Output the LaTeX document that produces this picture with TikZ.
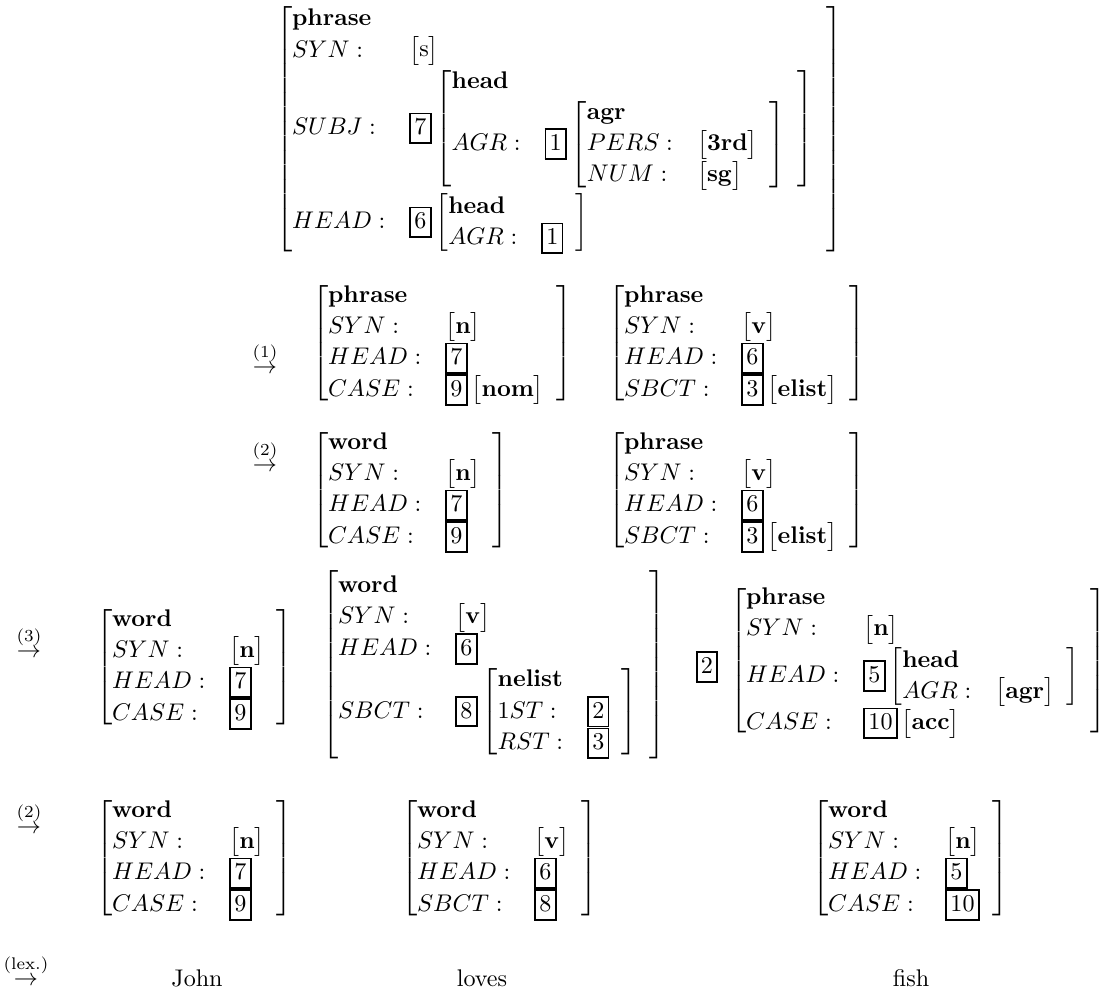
\documentclass[tikz,border=0pt]{standalone}
\usepackage{tikz}
\setlength{\fboxrule}{0.7pt}
\newcommand{\tagbox}[1]{{\setlength{\fboxsep}{1.4pt}\fbox{\rule[-1.7pt]{0pt}{8.8pt}#1}}}
\newcommand{\avm}[1]{{\renewcommand{\arraystretch}{1.08}\left[\begin{array}{@{}ll}#1\end{array}\right]}}
\newcommand{\valrm}[1]{{\renewcommand{\arraystretch}{1}\left[\begin{array}{@{}l@{}}#1\end{array}\right]}}
\newcommand{\val}[1]{\valrm{\mathbf{#1}}}
\newcommand{\step}[1]{$\stackrel{#1}{\rightarrow}$}
\tikzset{
  avm/.style={inner sep=0pt, outer sep=0pt, anchor=west},
  rulelbl/.style={inner sep=0pt}
}

\begin{document}
\begin{tikzpicture}[x=0.415pt, y={(0,-0.415pt)}]
  \useasboundingbox (0,0) rectangle (1107,994);

  % Sentence
  \node[avm] (sent) at (276,129) {$\avm{
    \textbf{phrase} & \\
    SYN: & \valrm{\mathrm{s}} \\
    SUBJ: & \tagbox{7}\,\avm{\textbf{head} & \\
      AGR: & \tagbox{1}\,\avm{\textbf{agr} & \\ PERS: & \val{3rd} \\ NUM: & \val{sg}}} \\
    HEAD: & \tagbox{6}\,\avm{\textbf{head} & \\ AGR: & \tagbox{1}}}$};

  % Step (1)
  \node[rulelbl] (r1) at (265,358) {\step{(1)}};
  \node[avm] (np1) at (312,343) {$\avm{
    \textbf{phrase} & \\ SYN: & \val{n} \\ HEAD: & \tagbox{7} \\ CASE: & \tagbox{9}\,\val{nom}}$};
  \node[avm] (vp1) at (608,343) {$\avm{
    \textbf{phrase} & \\ SYN: & \val{v} \\ HEAD: & \tagbox{6} \\ SBCT: & \tagbox{3}\,\val{elist}}$};

  % Step (2)
  \node[rulelbl] (r2) at (265,456) {\step{(2)}};
  \node[avm] (np2) at (312,490) {$\avm{
    \textbf{word} & \\ SYN: & \val{n} \\ HEAD: & \tagbox{7} \\ CASE: & \tagbox{9}}$};
  \node[avm] (vp2) at (608,490) {$\avm{
    \textbf{phrase} & \\ SYN: & \val{v} \\ HEAD: & \tagbox{6} \\ SBCT: & \tagbox{3}\,\val{elist}}$};

  % Step (3)
  \node[rulelbl] (r3) at (29,642) {\step{(3)}};
  \node[avm] (np3) at (96,667) {$\avm{
    \textbf{word} & \\ SYN: & \val{n} \\ HEAD: & \tagbox{7} \\ CASE: & \tagbox{9}}$};
  \node[avm] (v3) at (322,665) {$\avm{
    \textbf{word} & \\ SYN: & \val{v} \\ HEAD: & \tagbox{6} \\
    SBCT: & \tagbox{8}\,\avm{\textbf{nelist} & \\ 1ST: & \tagbox{2} \\ RST: & \tagbox{3}}}$};
  \node[rulelbl] (t2) at (707,667) {\tagbox{2}};
  \node[avm] (obj3) at (730,661) {$\avm{
    \textbf{phrase} & \\ SYN: & \val{n} \\
    HEAD: & \tagbox{5}\,\avm{\textbf{head} & \\ AGR: & \val{agr}} \\
    CASE: & \tagbox{10}\,\val{acc}}$};

  % Step (2) again, the words
  \node[rulelbl] (r4) at (29,818) {\step{(2)}};
  \node[avm] (john) at (96,858) {$\avm{
    \textbf{word} & \\ SYN: & \val{n} \\ HEAD: & \tagbox{7} \\ CASE: & \tagbox{9}}$};
  \node[avm] (loves) at (401,858) {$\avm{
    \textbf{word} & \\ SYN: & \val{v} \\ HEAD: & \tagbox{6} \\ SBCT: & \tagbox{8}}$};
  \node[avm] (fish) at (812,858) {$\avm{
    \textbf{word} & \\ SYN: & \val{n} \\ HEAD: & \tagbox{5} \\ CASE: & \tagbox{10}}$};

  % Lexicon
  \node[rulelbl] (lex) at (26,970) {\step{(\mathrm{lex.})}};
  \node (wj) at (197,978) {John};
  \node (wl) at (482,978) {loves};
  \node (wf) at (911,978) {fish};
\end{tikzpicture}
\end{document}
